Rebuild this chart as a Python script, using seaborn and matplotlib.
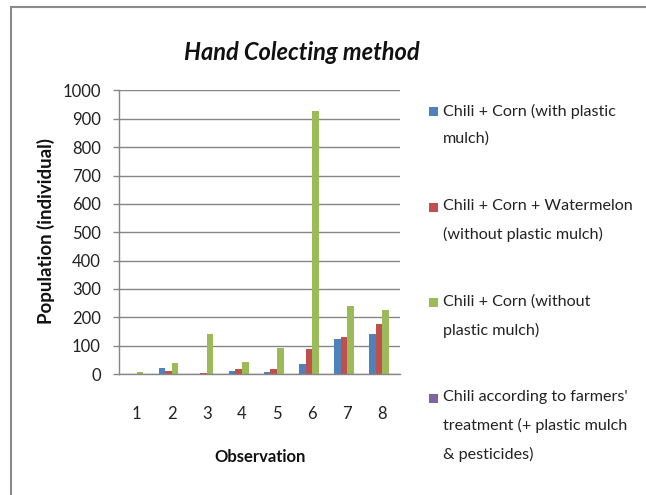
import matplotlib
matplotlib.use("Agg")
import matplotlib.pyplot as plt
from matplotlib.patches import Rectangle
import seaborn as sns
import pandas as pd

observations = ["1", "2", "3", "4", "5", "6", "7", "8"]
treatments = [
    "Chili + Corn (with plastic\nmulch)",
    "Chili + Corn + Watermelon\n(without plastic mulch)",
    "Chili + Corn (without\nplastic mulch)",
    "Chili according to farmers'\ntreatment (+ plastic mulch\n& pesticides)",
]
with_mulch = [0, 22, 0, 10, 6, 36, 122, 141]
watermelon = [0, 10, 4, 18, 18, 87, 129, 175]
without_mulch = [8, 38, 140, 41, 91, 929, 240, 226]
farmers = [0, 0, 0, 0, 0, 0, 0, 0]
colors = ["#4F81BD", "#C0504D", "#9BBB59", "#8064A2"]

series = [with_mulch, watermelon, without_mulch, farmers]
df = pd.DataFrame(
    [(obs, name, vals[i]) for name, vals in zip(treatments, series)
     for i, obs in enumerate(observations)],
    columns=["Observation", "Treatment", "Population"],
)

sns.set_theme(style="white")
plt.rcParams["font.family"] = ["Lato", "DejaVu Sans"]

W, H = 646, 495
fig = plt.figure(figsize=(W / 100, H / 100), dpi=100)
ax = fig.add_axes([0.1842, 0.2444, 0.435, 0.5728])

sns.barplot(
    data=df, x="Observation", y="Population", hue="Treatment",
    order=observations, hue_order=treatments, palette=colors,
    saturation=1, width=0.75, linewidth=0, legend=False, ax=ax,
)

ax.set_ylim(0, 1000)
ax.set_yticks(range(0, 1001, 100))
ax.set_xlim(-0.5, len(observations) - 0.5)
ax.yaxis.grid(True, color="#868686", linewidth=1.0)
ax.set_axisbelow(True)
for side in ("top", "right"):
    ax.spines[side].set_visible(False)
for side in ("left", "bottom"):
    ax.spines[side].set_color("#868686")
    ax.spines[side].set_linewidth(1.0)
ax.tick_params(axis="y", which="major", left=True, length=4, width=1,
               color="#868686", pad=9, labelsize=12, labelcolor="#222222")
ax.tick_params(axis="x", bottom=False, pad=17, labelsize=12, labelcolor="#222222")
ax.set_xlabel("")
ax.set_ylabel("")

# Legend on the right: a colour square beside the first line of each entry
legend_x, first_y, step = 443, 111.5, 95.5
for i, (name, color) in enumerate(zip(treatments, colors)):
    yc = first_y + i * step
    fig.add_artist(Rectangle(((legend_x - 14) / W, 1 - (yc + 4.5) / H),
                             9 / W, 9 / H, transform=fig.transFigure,
                             facecolor=color, edgecolor="none"))
    fig.text(legend_x / W, 1 - (yc - 8) / H, name, ha="left", va="top",
             fontsize=11.6, linespacing=2.15, color="#222222")

fig.text(0.4675, 0.893, "Hand Colecting method", ha="center", va="center",
         fontsize=17, fontweight="bold", fontstyle="italic", color="#111111")
fig.text(0.402, 0.077, "Observation", ha="center", va="center",
         fontsize=12, fontweight="bold", color="#111111")
fig.text(0.071, 0.533, "Population (individual)", ha="center", va="center",
         rotation=90, fontsize=13.5, fontweight="bold", color="#111111")

fig.add_artist(Rectangle((0.017, -0.1), 1.1, 1.0859, transform=fig.transFigure,
                         fill=False, edgecolor="#8a8a8a", linewidth=1.5,
                         clip_on=False))

fig.savefig("out.png", dpi=100)
